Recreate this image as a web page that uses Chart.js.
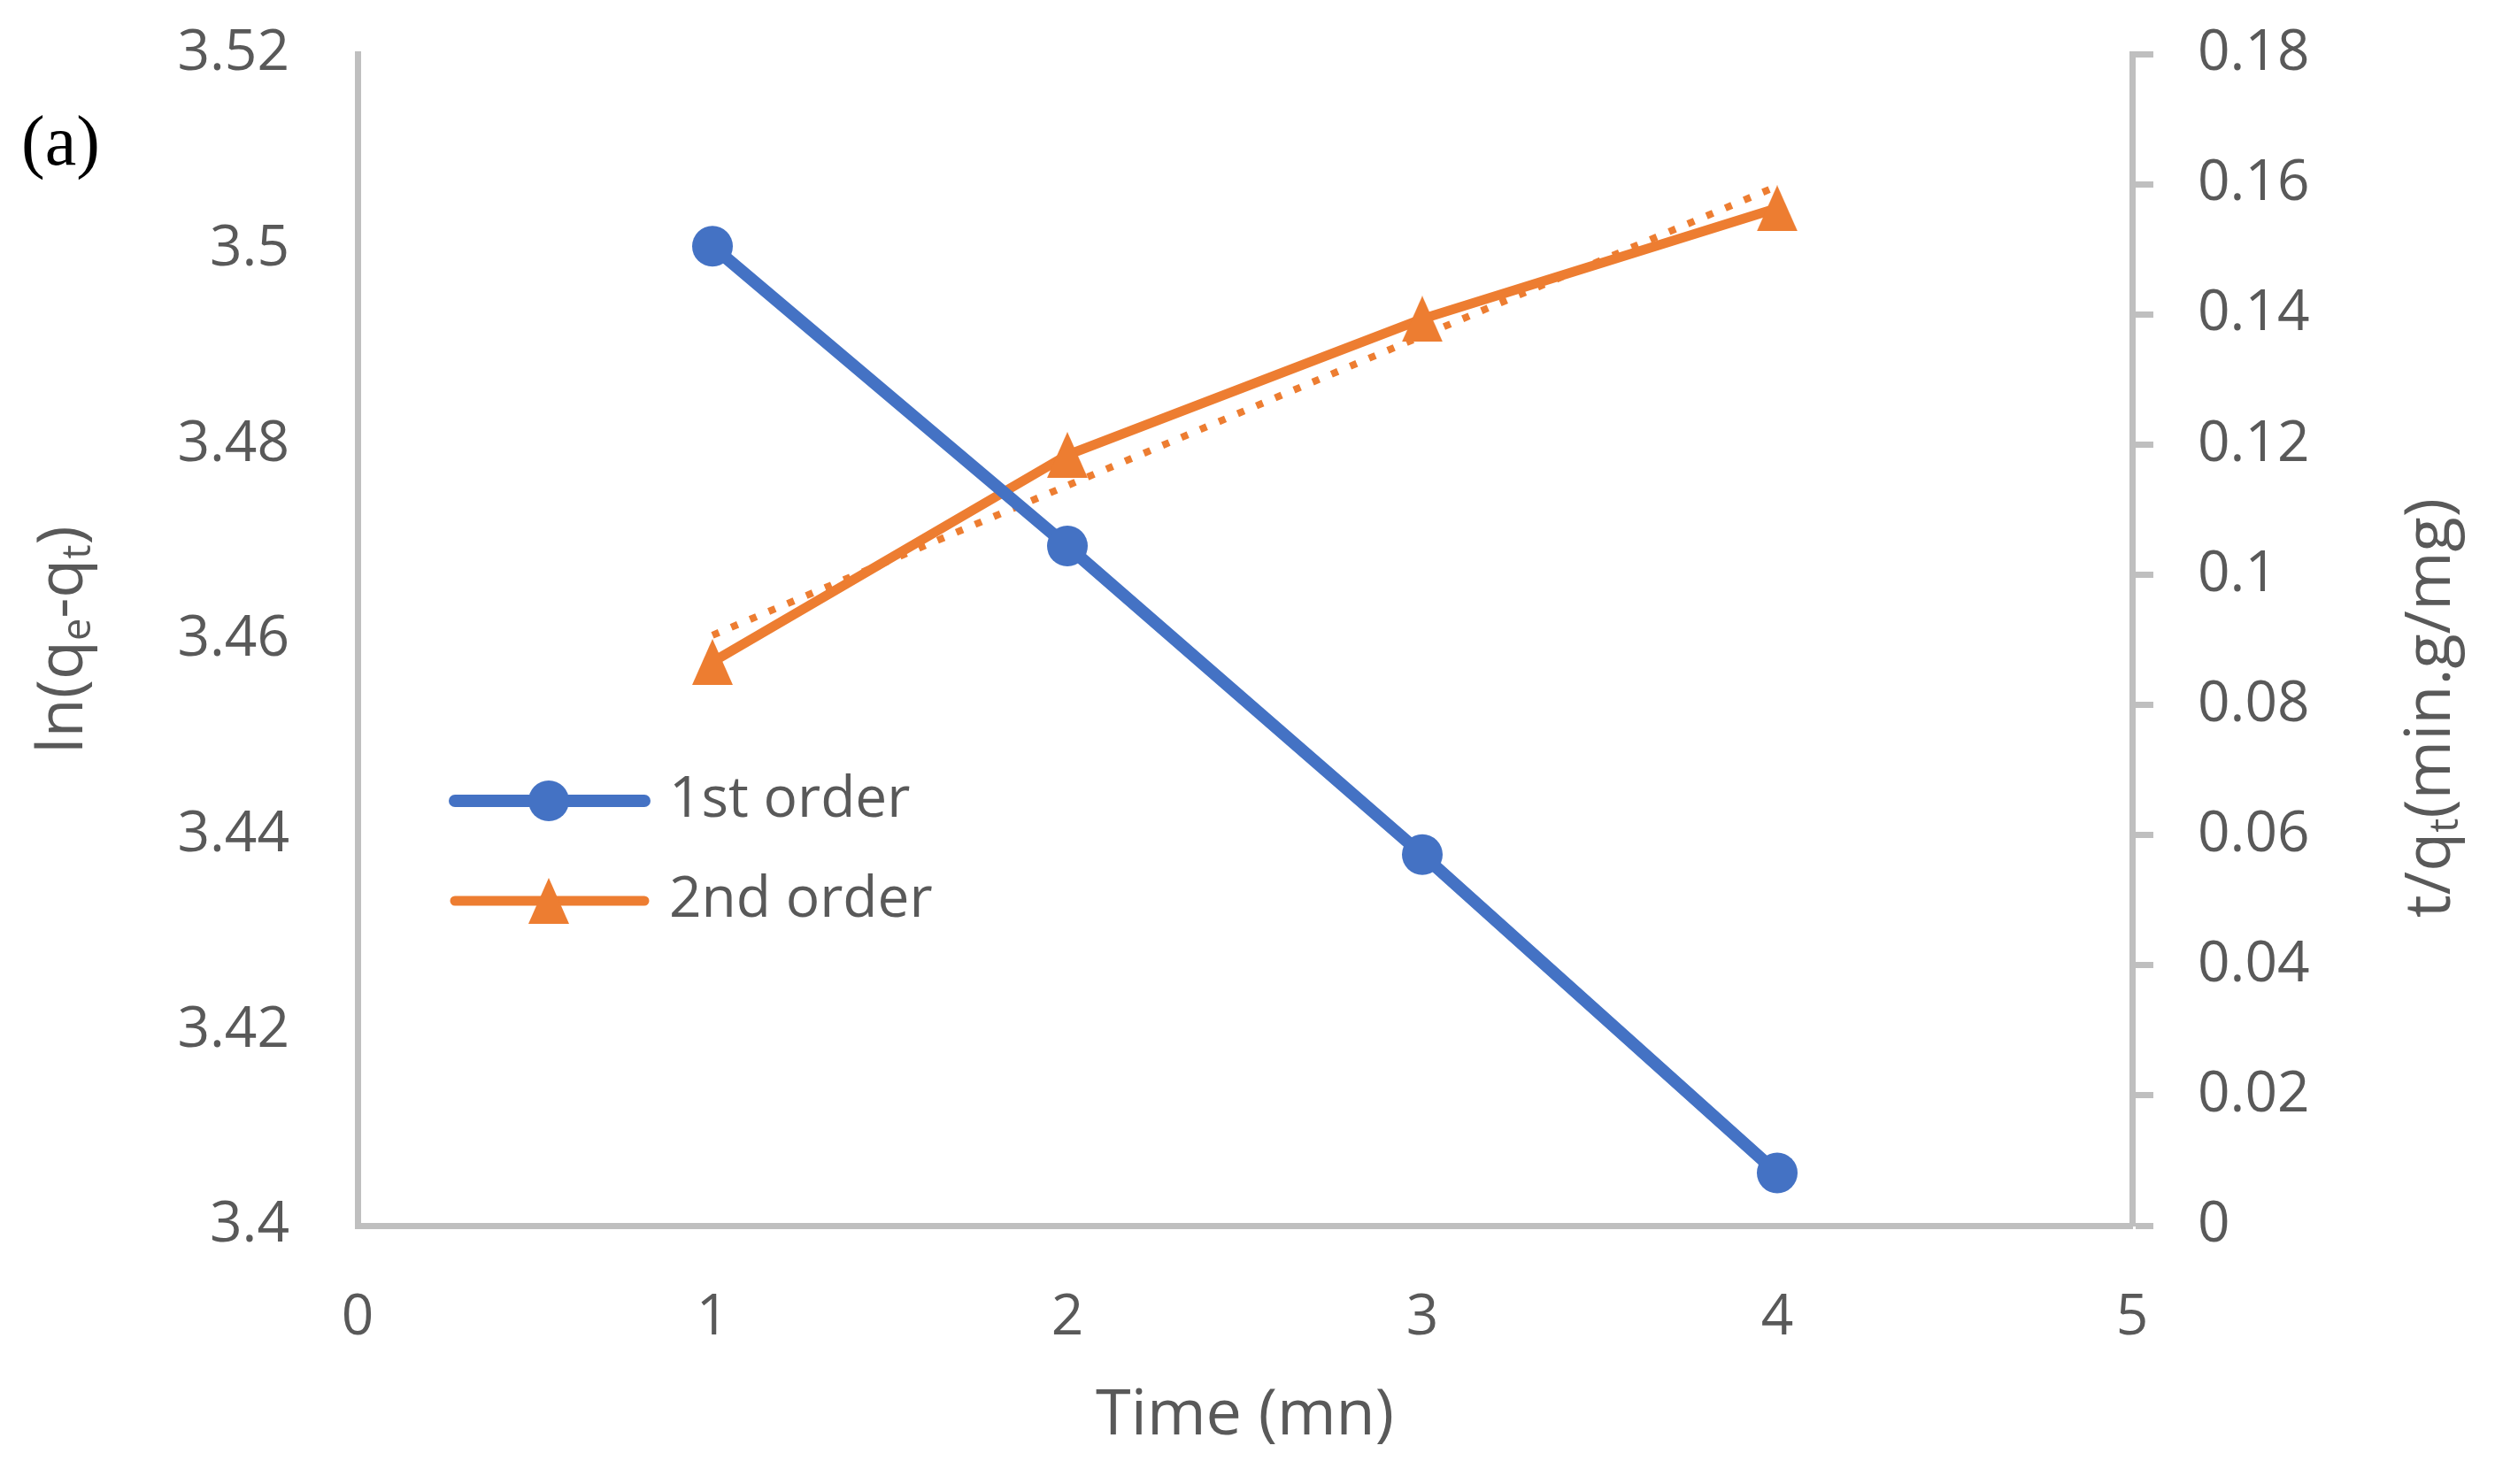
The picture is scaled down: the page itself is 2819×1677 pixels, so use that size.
<!DOCTYPE html>
<html>
<head>
<meta charset="utf-8">
<script src="https://cdn.jsdelivr.net/npm/chart.js@4.4.1/dist/chart.umd.min.js"></script>
<style>
  html, body { margin: 0; padding: 0; background: #fff; }
</style>
</head>
<body>
<canvas id="chart" width="2819" height="1677"></canvas>
<script>
// DATA
const timeMin = [1, 2, 3, 4];
const firstOrder = [3.5003, 3.4696, 3.4380, 3.4054];
const secondOrder = [0.0866, 0.1184, 0.1393, 0.1563];
const trendTime = [1, 4];
const trendSecond = [0.0907, 0.1597];

const xTicks = [0, 1, 2, 3, 4, 5];
const leftTicks = [3.40, 3.42, 3.44, 3.46, 3.48, 3.50, 3.52];
const rightTicks = [0, 0.02, 0.04, 0.06, 0.08, 0.10, 0.12, 0.14, 0.16, 0.18];

const BLUE = "#4472C4";
const ORANGE = "#ED7D31";
const AXIS = "#BFBFBF";
const TEXT = "#595959";
const FONT = "'Open Sans', 'Noto Sans', sans-serif";

// triangle marker, a bit taller than wide like excel
function triangleImage(color, w, h) {
  const c = document.createElement("canvas");
  c.width = w;
  c.height = h;
  const g = c.getContext("2d");
  g.fillStyle = color;
  g.beginPath();
  g.moveTo(w / 2, 0);
  g.lineTo(w, h);
  g.lineTo(0, h);
  g.closePath();
  g.fill();
  return c;
}
const triangle = triangleImage(ORANGE, 46, 52);

const toPoints = (xs, ys) => xs.map((x, i) => ({ x, y: ys[i] }));
const fmt = v => String(Number(v.toFixed(2)));

// text with subscripts, centred on 0,0
function drawRich(ctx, parts, size) {
  const subSize = Math.round(size * 0.62);
  let total = 0;
  const widths = parts.map(p => {
    ctx.font = `${p[1] ? subSize : size}px ${FONT}`;
    const w = ctx.measureText(p[0]).width;
    total += w;
    return w;
  });
  let x = -total / 2;
  parts.forEach((p, i) => {
    ctx.font = `${p[1] ? subSize : size}px ${FONT}`;
    ctx.fillText(p[0], x, p[1] ? size * 0.24 : 0);
    x += widths[i];
  });
}

// TITLES + LEGEND
const extras = {
  id: "extras",
  afterDraw(chart) {
    const ctx = chart.ctx;
    const area = chart.chartArea;
    ctx.save();
    ctx.textBaseline = "middle";
    ctx.textAlign = "left";
    ctx.fillStyle = TEXT;

    // x title
    ctx.save();
    ctx.translate((area.left + area.right) / 2, 1600);
    drawRich(ctx, [["Time (mn)", false]], 72);
    ctx.restore();

    // left title
    ctx.save();
    ctx.translate(72, (area.top + area.bottom) / 2);
    ctx.rotate(-Math.PI / 2);
    drawRich(ctx, [["ln(q", false], ["e", true], ["-q", false], ["t", true], [")", false]], 72);
    ctx.restore();

    // right title
    ctx.save();
    ctx.translate(2747, 800);
    ctx.rotate(-Math.PI / 2);
    drawRich(ctx, [["t/q", false], ["t", true], ["(min.g/mg)", false]], 72);
    ctx.restore();

    // (a)
    ctx.fillStyle = "#000";
    ctx.font = "80px 'Liberation Serif', serif";
    ctx.fillText("(a)", 24, 165);

    // legend
    const rows = [
      { label: "1st order", color: BLUE, width: 14, y: 905, marker: "circle" },
      { label: "2nd order", color: ORANGE, width: 11, y: 1018, marker: "triangle" }
    ];
    rows.forEach(r => {
      ctx.strokeStyle = r.color;
      ctx.lineWidth = r.width;
      ctx.lineCap = "round";
      ctx.beginPath();
      ctx.moveTo(514, r.y);
      ctx.lineTo(728, r.y);
      ctx.stroke();
      if (r.marker === "circle") {
        ctx.fillStyle = r.color;
        ctx.beginPath();
        ctx.arc(620, r.y, 23, 0, Math.PI * 2);
        ctx.fill();
      } else {
        ctx.drawImage(triangle, 620 - triangle.width / 2, r.y - triangle.height / 2);
      }
      ctx.fillStyle = TEXT;
      ctx.font = `64px ${FONT}`;
      ctx.fillText(r.label, 756, r.y);
    });

    ctx.restore();
  }
};

const tickFont = { family: FONT, size: 64 };

// fixed axis sizes so the plot box sits where the original one does
function fitVertical(width) {
  return s => {
    s.width = width;
    s.paddingTop = 0;
    s.paddingBottom = 0;
  };
}

new Chart(document.getElementById("chart"), {
  type: "scatter",
  data: {
    datasets: [
      {
        label: "1st order",
        data: toPoints(timeMin, firstOrder),
        showLine: true,
        borderColor: BLUE,
        backgroundColor: BLUE,
        borderWidth: 14,
        pointRadius: 23,
        pointBorderWidth: 0,
        pointStyle: "circle",
        yAxisID: "y"
      },
      {
        label: "2nd order",
        data: toPoints(timeMin, secondOrder),
        showLine: true,
        borderColor: ORANGE,
        backgroundColor: ORANGE,
        borderWidth: 11,
        pointRadius: 26,
        pointBorderWidth: 0,
        pointStyle: triangle,
        yAxisID: "y2"
      },
      {
        label: "trend",
        data: toPoints(trendTime, trendSecond),
        showLine: true,
        borderColor: ORANGE,
        borderWidth: 8,
        borderDash: [8, 15],
        borderCapStyle: "butt",
        pointRadius: 0,
        yAxisID: "y2"
      }
    ]
  },
  options: {
    responsive: false,
    devicePixelRatio: 1,
    animation: false,
    layout: { padding: { top: 61, left: 0, right: 0, bottom: 0 } },
    plugins: {
      legend: { display: false },
      tooltip: { enabled: false }
    },
    scales: {
      x: {
        type: "linear",
        min: 0,
        max: 5,
        afterBuildTicks: s => { s.ticks = xTicks.map(v => ({ value: v })); },
        afterFit: s => { s.height = 292; s.paddingLeft = 0; s.paddingRight = 0; },
        grid: { display: false },
        border: { display: true, color: AXIS, width: 7 },
        ticks: { color: TEXT, font: tickFont, padding: 58, callback: v => fmt(v) }
      },
      y: {
        position: "left",
        min: 3.40,
        max: 3.52,
        afterBuildTicks: s => { s.ticks = leftTicks.map(v => ({ value: v })); },
        afterFit: fitVertical(404),
        grid: { display: false },
        border: { display: true, color: AXIS, width: 7 },
        ticks: { color: TEXT, font: tickFont, padding: 69, callback: v => fmt(v) }
      },
      y2: {
        position: "right",
        min: 0,
        max: 0.18,
        afterBuildTicks: s => { s.ticks = rightTicks.map(v => ({ value: v })); },
        afterFit: fitVertical(410),
        grid: {
          display: true,
          drawOnChartArea: false,
          drawTicks: true,
          tickLength: 24,
          tickWidth: 7,
          tickColor: AXIS
        },
        border: { display: true, color: AXIS, width: 7 },
        ticks: { color: TEXT, font: tickFont, padding: 50, callback: v => fmt(v) }
      }
    }
  },
  plugins: [extras]
});
</script>
</body>
</html>
